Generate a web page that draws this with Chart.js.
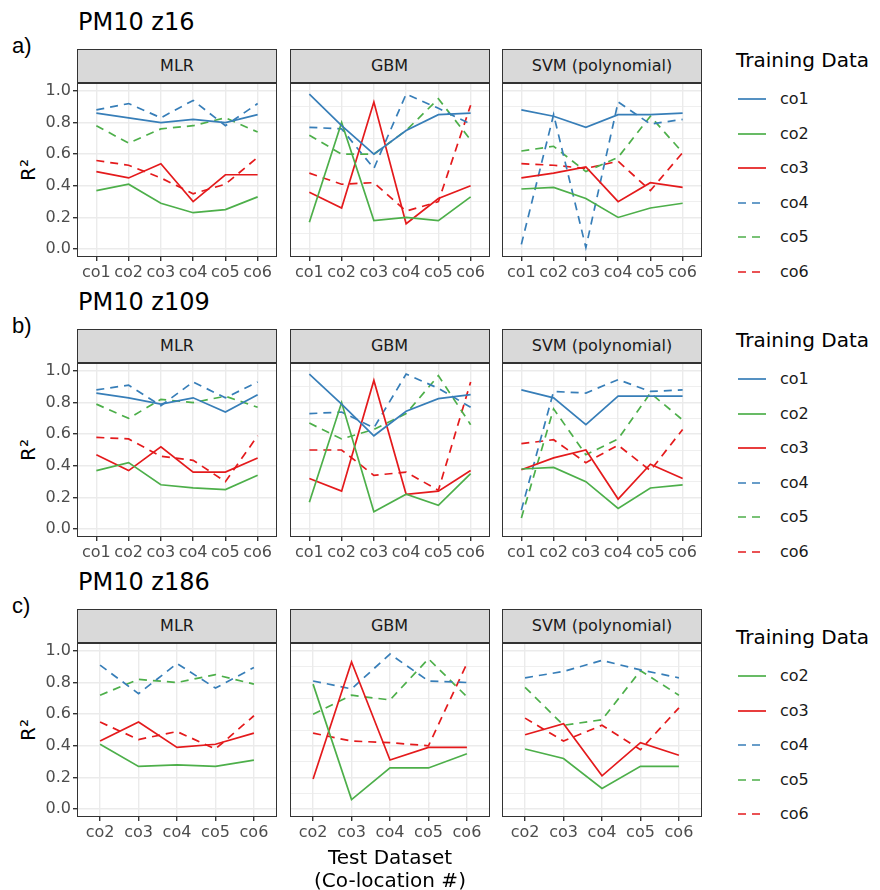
<!DOCTYPE html>
<html>
<head>
<meta charset="utf-8">
<script src="https://cdn.jsdelivr.net/npm/chart.js@4.4.0/dist/chart.umd.min.js"></script>
<style>
  body { margin: 0; background: #fff; width: 880px; height: 890px; position: relative; overflow: hidden;
         font-family: "DejaVu Sans", sans-serif; }
  .abs { position: absolute; white-space: nowrap; }
  .strip { position: absolute; box-sizing: border-box; background: #d9d9d9; border: 1px solid #333;
           color: #1a1a1a; font-size: 16px; text-align: center; }
  canvas { position: absolute; }
</style>
</head>
<body>
<script>
// --- data ---
const rowTitles = ['PM10 z16', 'PM10 z109', 'PM10 z186'];
const rowTags = ['a)', 'b)', 'c)'];
const models = ['MLR', 'GBM', 'SVM (polynomial)'];

const testSetsAB = ['co1', 'co2', 'co3', 'co4', 'co5', 'co6'];
const testSetsC = ['co2', 'co3', 'co4', 'co5', 'co6'];
const trainingAB = ['co1', 'co2', 'co3', 'co4', 'co5', 'co6'];
const trainingC = ['co2', 'co3', 'co4', 'co5', 'co6'];

// one array per panel, one row per training set (same order as training list)
const z16_MLR = [
  [0.86, 0.83, 0.80, 0.82, 0.80, 0.85],
  [0.37, 0.41, 0.29, 0.23, 0.25, 0.33],
  [0.49, 0.45, 0.54, 0.30, 0.47, 0.47],
  [0.88, 0.92, 0.83, 0.94, 0.78, 0.92],
  [0.78, 0.67, 0.76, 0.78, 0.83, 0.74],
  [0.56, 0.53, 0.45, 0.35, 0.41, 0.58]
];
const z16_GBM = [
  [0.98, 0.78, 0.60, 0.75, 0.85, 0.86],
  [0.17, 0.80, 0.18, 0.20, 0.18, 0.33],
  [0.36, 0.26, 0.93, 0.16, 0.32, 0.40],
  [0.77, 0.76, 0.51, 0.98, 0.89, 0.79],
  [0.72, 0.60, 0.60, 0.75, 0.95, 0.69],
  [0.48, 0.41, 0.42, 0.24, 0.30, 0.91]
];
const z16_SVM = [
  [0.88, 0.84, 0.77, 0.85, 0.85, 0.86],
  [0.38, 0.39, 0.32, 0.20, 0.26, 0.29],
  [0.45, 0.48, 0.52, 0.30, 0.42, 0.39],
  [0.03, 0.85, 0.01, 0.93, 0.79, 0.82],
  [0.62, 0.65, 0.49, 0.58, 0.84, 0.61],
  [0.54, 0.53, 0.51, 0.555, 0.37, 0.61]
];
const z109_MLR = [
  [0.86, 0.83, 0.79, 0.83, 0.74, 0.85],
  [0.37, 0.42, 0.28, 0.26, 0.25, 0.34],
  [0.47, 0.37, 0.52, 0.36, 0.36, 0.45],
  [0.88, 0.91, 0.78, 0.93, 0.83, 0.93],
  [0.79, 0.70, 0.82, 0.80, 0.84, 0.77],
  [0.58, 0.57, 0.46, 0.435, 0.30, 0.59]
];
const z109_GBM = [
  [0.98, 0.79, 0.59, 0.745, 0.825, 0.85],
  [0.17, 0.80, 0.11, 0.22, 0.15, 0.35],
  [0.32, 0.24, 0.94, 0.22, 0.24, 0.37],
  [0.73, 0.74, 0.64, 0.98, 0.89, 0.77],
  [0.67, 0.57, 0.63, 0.73, 0.97, 0.66],
  [0.50, 0.50, 0.34, 0.36, 0.245, 0.93]
];
const z109_SVM = [
  [0.88, 0.83, 0.66, 0.84, 0.84, 0.84],
  [0.38, 0.39, 0.30, 0.13, 0.26, 0.28],
  [0.375, 0.45, 0.50, 0.19, 0.41, 0.32],
  [0.12, 0.87, 0.86, 0.945, 0.87, 0.88],
  [0.07, 0.76, 0.47, 0.57, 0.86, 0.69],
  [0.54, 0.565, 0.42, 0.53, 0.37, 0.63]
];
const z186_MLR = [
  [0.41, 0.27, 0.28, 0.27, 0.31],
  [0.43, 0.55, 0.39, 0.41, 0.48],
  [0.91, 0.73, 0.92, 0.765, 0.895],
  [0.72, 0.82, 0.80, 0.85, 0.79],
  [0.55, 0.44, 0.49, 0.38, 0.59]
];
const z186_GBM = [
  [0.79, 0.06, 0.26, 0.26, 0.35],
  [0.19, 0.93, 0.31, 0.39, 0.39],
  [0.81, 0.76, 0.98, 0.81, 0.80],
  [0.60, 0.72, 0.69, 0.95, 0.71],
  [0.48, 0.43, 0.42, 0.40, 0.92]
];
const z186_SVM = [
  [0.38, 0.32, 0.13, 0.27, 0.27],
  [0.47, 0.54, 0.21, 0.42, 0.34],
  [0.83, 0.87, 0.94, 0.88, 0.83],
  [0.77, 0.53, 0.565, 0.875, 0.72],
  [0.575, 0.43, 0.53, 0.375, 0.64]
];

const yTickValues = [0, 0.1, 0.2, 0.3, 0.4, 0.5, 0.6, 0.7, 0.8, 0.9, 1.0];

// --- styling ---
const colorOf = { co1: '#377EB8', co2: '#4DAF4A', co3: '#E41A1C', co4: '#377EB8', co5: '#4DAF4A', co6: '#E41A1C' };
const dashOf = { co1: [], co2: [], co3: [], co4: [8, 6], co5: [8, 6], co6: [8, 6] };
const FONT = '"DejaVu Sans", sans-serif';

const rows = [
  { panels: [z16_MLR, z16_GBM, z16_SVM], cats: testSetsAB, train: trainingAB },
  { panels: [z109_MLR, z109_GBM, z109_SVM], cats: testSetsAB, train: trainingAB },
  { panels: [z186_MLR, z186_GBM, z186_SVM], cats: testSetsC, train: trainingC }
];

const plotTops = [82.5, 362.5, 642.5];
const plotLefts = [77, 289.5, 502];
const PW = 200, PH = 174;

const frame = {
  id: 'frame',
  afterDraw(chart) {
    const a = chart.chartArea, ctx = chart.ctx;
    ctx.save();
    ctx.strokeStyle = '#333';
    ctx.lineWidth = 1;
    ctx.strokeRect(Math.round(a.left) + 0.5, Math.round(a.top) + 0.5,
                   Math.round(a.right - a.left) - 1, Math.round(a.bottom - a.top) - 1);
    ctx.restore();
  }
};

function addText(txt, left, top, size, color, extra) {
  const d = document.createElement('div');
  d.className = 'abs';
  d.textContent = txt;
  d.style.left = left + 'px';
  d.style.top = top + 'px';
  d.style.fontSize = size + 'px';
  d.style.color = color;
  if (extra) Object.assign(d.style, extra);
  document.body.appendChild(d);
  return d;
}

const isMajor = v => Math.round(v * 10) % 2 === 0;

function makePanel(vals, cats, train, left, top, first) {
  const yw = first ? 40 : 0;
  const c = document.createElement('canvas');
  c.width = yw + PW + 1;
  c.height = PH + 31;
  c.style.left = (left - yw) + 'px';
  c.style.top = (top - 1) + 'px';
  document.body.appendChild(c);

  new Chart(c, {
    type: 'line',
    data: {
      datasets: train.map((name, k) => ({
        label: name,
        data: vals[k].map((v, i) => ({ x: i, y: v })),
        borderColor: colorOf[name],
        borderDash: dashOf[name],
        borderWidth: 1.7,
        pointRadius: 0,
        tension: 0,
        fill: false
      }))
    },
    options: {
      responsive: false,
      animation: false,
      layout: { padding: { top: 1, right: 1, left: 0, bottom: 0 } },
      plugins: { legend: { display: false }, tooltip: { enabled: false } },
      scales: {
        x: {
          type: 'linear',
          min: -0.6,
          max: cats.length - 1 + 0.6,
          afterBuildTicks: s => { s.ticks = cats.map((_, i) => ({ value: i })); },
          afterFit: s => { s.height = 30; s.paddingLeft = 0; s.paddingRight = 0; },
          ticks: {
            callback: v => cats[v],
            color: '#4d4d4d',
            font: { family: FONT, size: 16 },
            padding: 2,
            maxRotation: 0,
            autoSkip: false
          },
          grid: { color: '#ebebeb', lineWidth: 1.4, tickColor: '#333', tickLength: 4 },
          border: { display: false }
        },
        y: {
          min: -0.05,
          max: 1.05,
          afterBuildTicks: s => { s.ticks = yTickValues.map(v => ({ value: v })); },
          afterFit: s => { s.width = yw; s.paddingTop = 0; s.paddingBottom = 0; },
          ticks: {
            display: first,
            callback: v => isMajor(v) ? v.toFixed(1) : '',
            color: '#4d4d4d',
            font: { family: FONT, size: 16 },
            padding: 2
          },
          grid: {
            color: '#ebebeb',
            lineWidth: ctx => isMajor(ctx.tick.value) ? 1.4 : 0.8,
            tickColor: ctx => isMajor(ctx.tick.value) ? '#333' : 'rgba(0,0,0,0)',
            tickLength: 4,
            drawTicks: first
          },
          border: { display: false }
        }
      }
    },
    plugins: [frame]
  });
}

rows.forEach((row, r) => {
  const top = plotTops[r];
  addText(rowTitles[r], 78, top - 76, 24, '#000', { lineHeight: '30px' });
  addText(rowTags[r], 12, top - 52, 22, '#000', { lineHeight: '30px', fontFamily: '"Liberation Sans", sans-serif' });
  // y axis title
  addText('R²', 28 - 20, top + PH / 2 - 12, 20, '#000',
          { width: '40px', textAlign: 'center', lineHeight: '24px', transform: 'rotate(-90deg)' });

  row.panels.forEach((vals, p) => {
    const left = plotLefts[p];
    const s = document.createElement('div');
    s.className = 'strip';
    s.textContent = models[p];
    s.style.left = left + 'px';
    s.style.top = (top - 34) + 'px';
    s.style.width = PW + 'px';
    s.style.height = '34px';
    s.style.lineHeight = '32px';
    document.body.appendChild(s);
    makePanel(vals, row.cats, row.train, left, top, p === 0);
  });

  // legend
  const shift = (6 - row.train.length) * 17;
  const legTop = top - 22.5 + shift;
  addText('Training Data', 736, legTop - 13, 20, '#000', { lineHeight: '26px' });
  row.train.forEach((name, k) => {
    const cy = legTop + 39 + 34.6 * k;
    const svg = document.createElementNS('http://www.w3.org/2000/svg', 'svg');
    svg.setAttribute('width', '30');
    svg.setAttribute('height', '6');
    svg.style.position = 'absolute';
    svg.style.left = '738px';
    svg.style.top = (cy - 3) + 'px';
    const ln = document.createElementNS('http://www.w3.org/2000/svg', 'line');
    ln.setAttribute('x1', '0'); ln.setAttribute('y1', '3');
    ln.setAttribute('x2', '28'); ln.setAttribute('y2', '3');
    ln.setAttribute('stroke', colorOf[name]);
    ln.setAttribute('stroke-width', '1.7');
    if (dashOf[name].length) ln.setAttribute('stroke-dasharray', dashOf[name].join(' '));
    svg.appendChild(ln);
    document.body.appendChild(svg);
    addText(name, 780, cy - 11, 16, '#1a1a1a', { lineHeight: '22px' });
  });
});

addText('Test Dataset', 290, 845, 20, '#000', { width: '200px', textAlign: 'center', lineHeight: '24px' });
addText('(Co-location #)', 290, 868, 20, '#000', { width: '200px', textAlign: 'center', lineHeight: '24px' });
</script>
</body>
</html>
